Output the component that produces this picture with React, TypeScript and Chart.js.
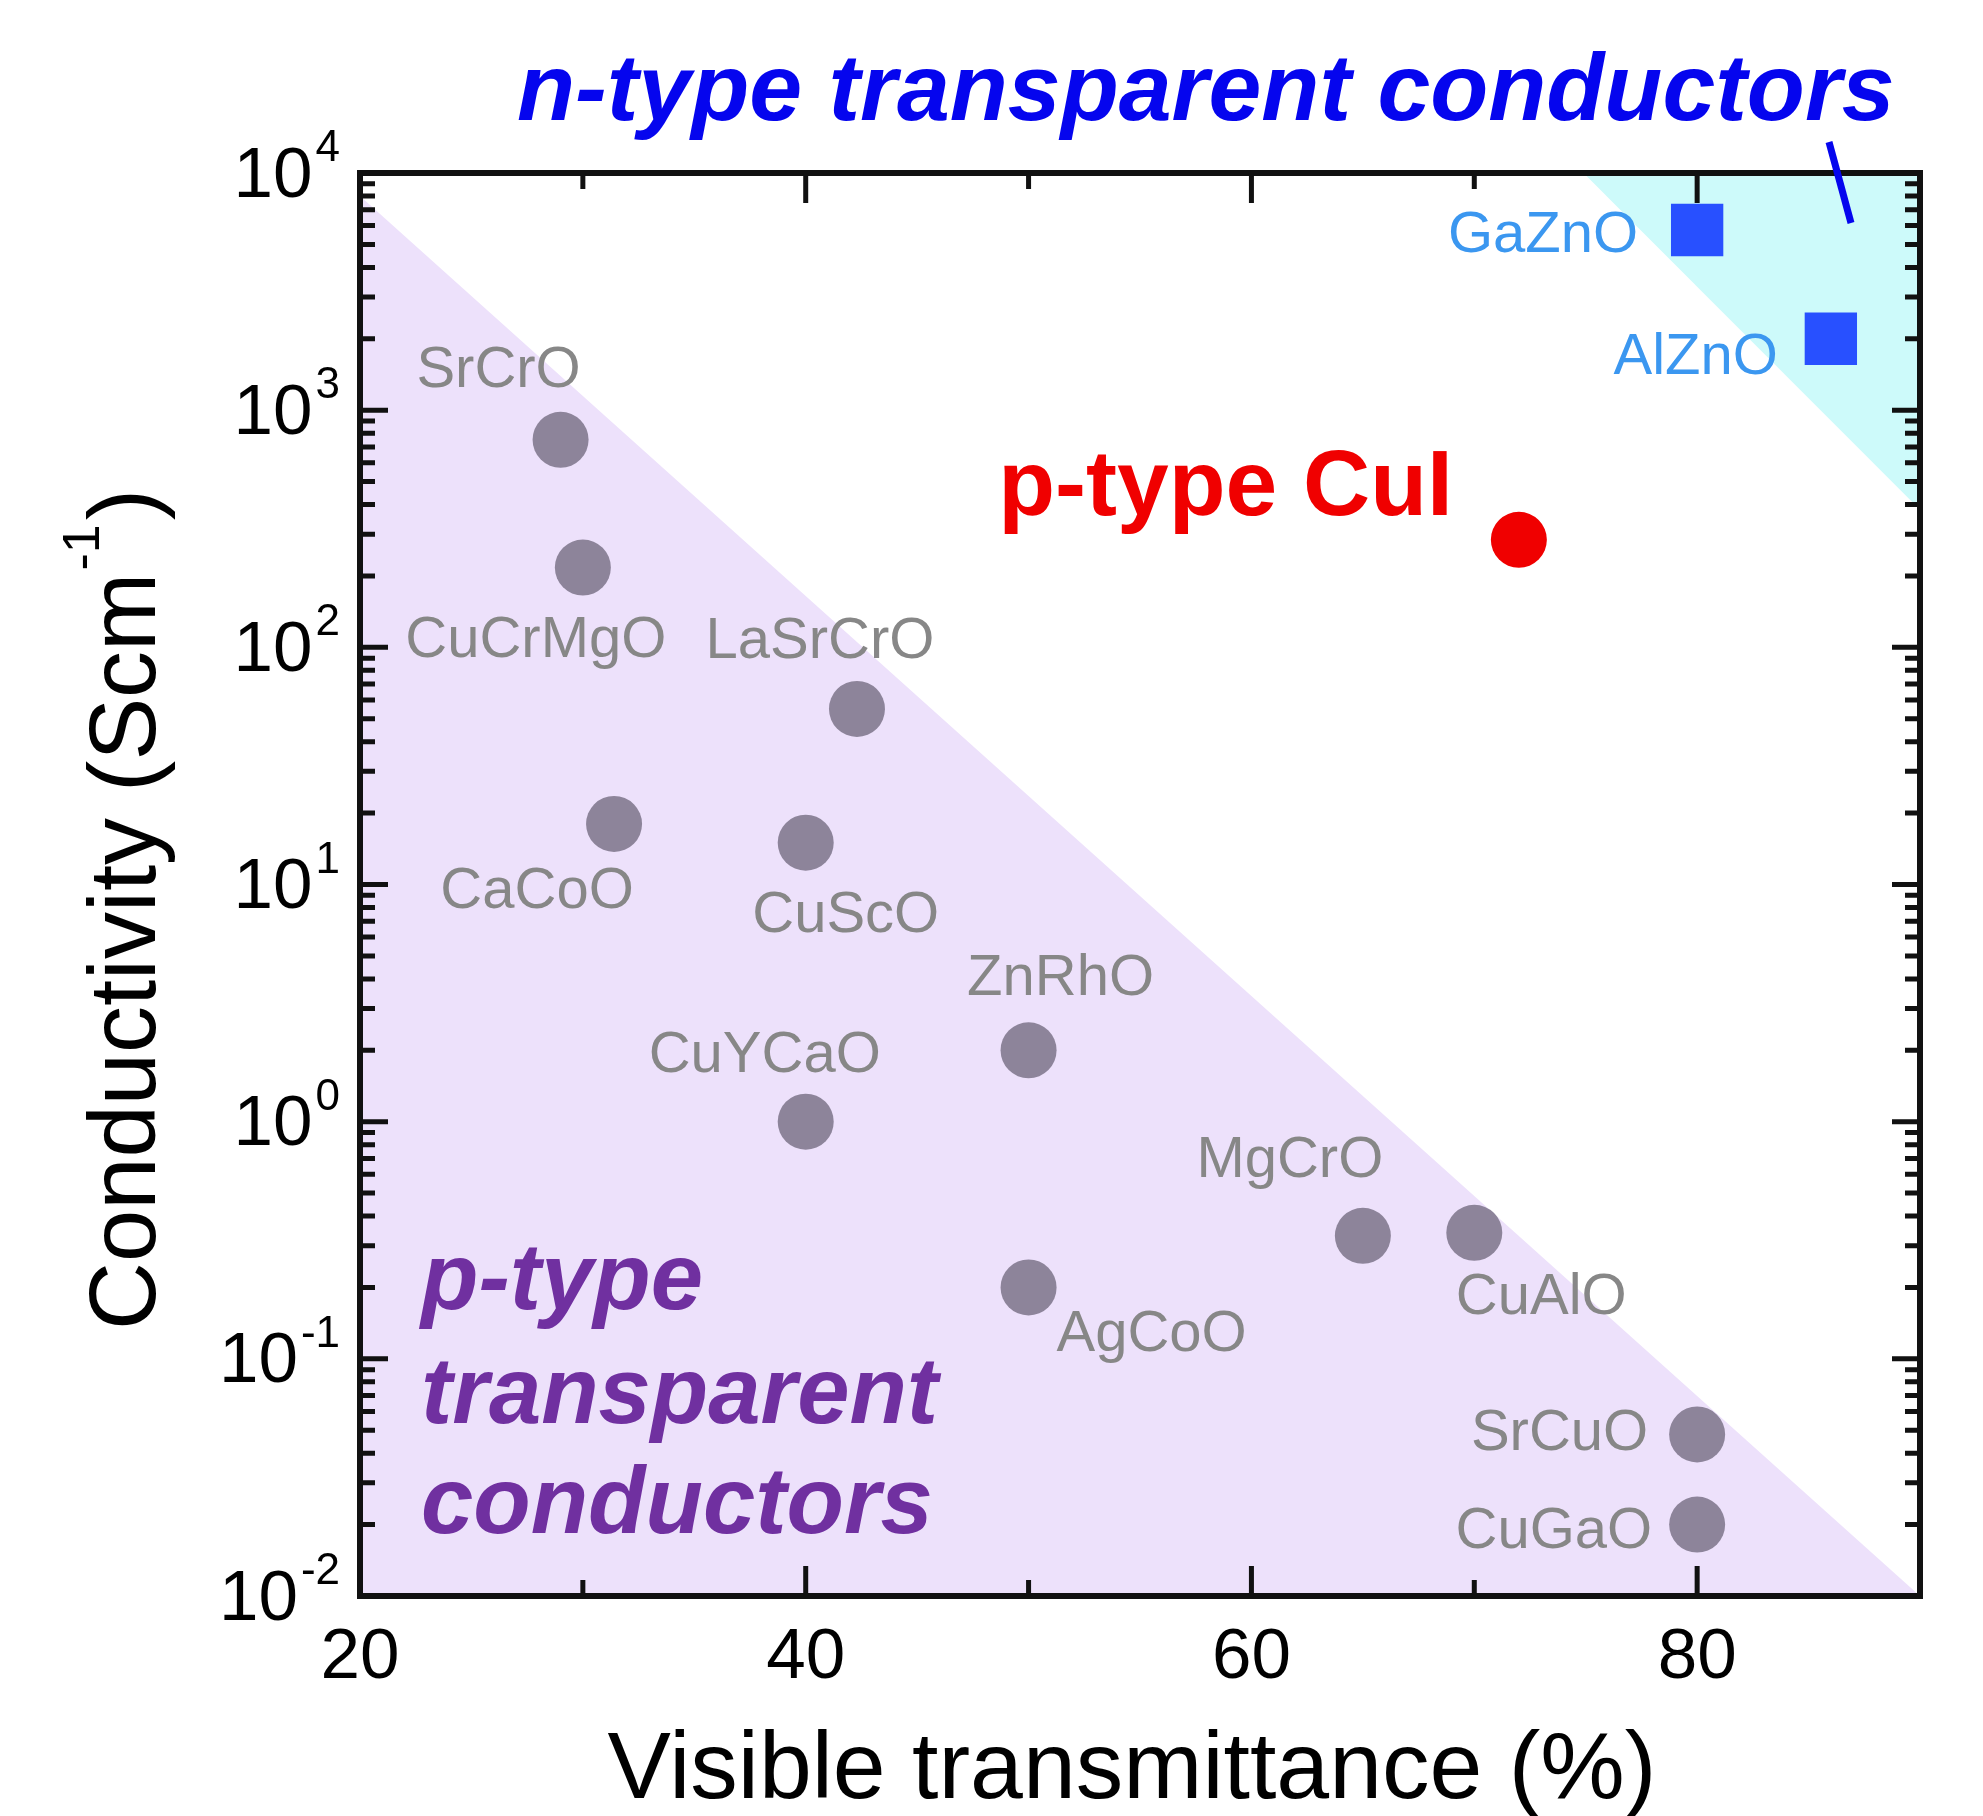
import React, { useEffect, useRef } from 'react';
import { Chart, registerables } from 'chart.js';

Chart.register(...registerables);

// ---- Data ----
const pNames = ['SrCrO', 'CuCrMgO', 'LaSrCrO', 'CaCoO', 'CuScO', 'ZnRhO', 'CuYCaO', 'MgCrO', 'CuAlO', 'AgCoO', 'SrCuO', 'CuGaO'];
const pTransmittance = [29, 30, 42.3, 31.4, 40, 50, 40, 65, 70, 50, 80, 80];
const pConductivity = [750, 217, 55, 18, 15, 2.0, 1.0, 0.33, 0.34, 0.2, 0.048, 0.02];

const nNames = ['GaZnO', 'AlZnO'];
const nTransmittance = [80, 86];
const nConductivity = [5750, 2000];

const cuiName = 'p-type CuI';
const cuiTransmittance = [72];
const cuiConductivity = [284];

const pRegionX = [20, 90];
const pRegionY = [8000, 0.01];
const nRegionX = [74.9, 90];
const nRegionY = [10000, 380];

const xMajorTicks = [20, 40, 60, 80];
const xMinorTicks = [30, 50, 70];
const yExponents = [-2, -1, 0, 1, 2, 3, 4];

// ---- Label placement (pixel offsets from the marker) ----
const pLabelOffsets: [number, number, CanvasTextAlign][] = [
  [-62, -69, 'center'],
  [-47, 73, 'center'],
  [-37, -67, 'center'],
  [-77, 68, 'center'],
  [40, 73, 'center'],
  [32, -71, 'center'],
  [-41, -66, 'center'],
  [-73, -75, 'center'],
  [67, 65, 'center'],
  [123, 48, 'center'],
  [-49, 0, 'right'],
  [-45, 7, 'right'],
];
const nLabelOffsets: [number, number, CanvasTextAlign][] = [
  [-59, 6, 'right'],
  [-53, 19, 'right'],
];

const FONT = '"Liberation Sans", Arial, Helvetica, sans-serif';

const toPts = (xs: number[], ys: number[]) => xs.map((x, i) => ({ x, y: ys[i] }));

const overlay = {
  id: 'overlay',
  afterDatasetsDraw(chart: any) {
    const ctx: CanvasRenderingContext2D = chart.ctx;
    const xs = chart.scales.x;
    const ys = chart.scales.y;
    const ca = chart.chartArea;
    ctx.save();

    // point labels
    ctx.textBaseline = 'middle';
    ctx.font = `58px ${FONT}`;
    ctx.fillStyle = '#878787';
    const pMeta = chart.getDatasetMeta(2);
    pMeta.data.forEach((el: any, i: number) => {
      const [dx, dy, al] = pLabelOffsets[i];
      ctx.textAlign = al;
      ctx.fillText(pNames[i], el.x + dx, el.y + dy);
    });
    ctx.fillStyle = '#3b97f0';
    const nMeta = chart.getDatasetMeta(4);
    nMeta.data.forEach((el: any, i: number) => {
      const [dx, dy, al] = nLabelOffsets[i];
      ctx.textAlign = al;
      ctx.fillText(nNames[i], el.x + dx, el.y + dy);
    });

    // CuI label
    const cMeta = chart.getDatasetMeta(3);
    const cEl = cMeta.data[0];
    ctx.fillStyle = '#f00000';
    ctx.font = `bold 93px ${FONT}`;
    ctx.textAlign = 'right';
    ctx.textBaseline = 'alphabetic';
    ctx.fillText(cuiName, cEl.x - 66, cEl.y - 25);

    // p-type region text
    ctx.fillStyle = '#7030a0';
    ctx.font = `italic bold 94px ${FONT}`;
    ctx.textAlign = 'left';
    ctx.fillText('p-type', ca.left + 61, 1309);
    ctx.fillText('transparent', ca.left + 61, 1423);
    ctx.fillText('conductors', ca.left + 61, 1533);

    // frame
    ctx.strokeStyle = '#111111';
    ctx.lineWidth = 6;
    ctx.strokeRect(ca.left, ca.top, ca.right - ca.left, ca.bottom - ca.top);

    // ticks
    ctx.lineWidth = 5;
    ctx.beginPath();
    const xt = (v: number, len: number) => {
      const px = xs.getPixelForValue(v);
      ctx.moveTo(px, ca.bottom);
      ctx.lineTo(px, ca.bottom - len);
      ctx.moveTo(px, ca.top);
      ctx.lineTo(px, ca.top + len);
    };
    xMajorTicks.forEach((v) => xt(v, 30));
    xMinorTicks.forEach((v) => xt(v, 16));
    const yt = (v: number, len: number) => {
      const py = ys.getPixelForValue(v);
      ctx.moveTo(ca.left, py);
      ctx.lineTo(ca.left + len, py);
      ctx.moveTo(ca.right, py);
      ctx.lineTo(ca.right - len, py);
    };
    yExponents.forEach((e) => {
      yt(Math.pow(10, e), 28);
      if (e < 4) {
        for (let m = 2; m <= 9; m++) yt(m * Math.pow(10, e), 15);
      }
    });
    ctx.stroke();

    // x tick labels
    ctx.fillStyle = '#000';
    ctx.font = `71px ${FONT}`;
    ctx.textAlign = 'center';
    ctx.textBaseline = 'middle';
    xMajorTicks.forEach((v) => ctx.fillText(String(v), xs.getPixelForValue(v), 1658));

    // y tick labels with superscripts
    yExponents.forEach((e) => {
      const py = ys.getPixelForValue(Math.pow(10, e));
      ctx.font = `44px ${FONT}`;
      ctx.textAlign = 'right';
      ctx.textBaseline = 'alphabetic';
      const sup = String(e);
      const supW = ctx.measureText(sup).width;
      ctx.fillText(sup, 340, py - 12);
      ctx.font = `71px ${FONT}`;
      ctx.textBaseline = 'middle';
      ctx.fillText('10', 340 - supW - 3, py + 4);
    });

    // x title
    ctx.font = `95px ${FONT}`;
    ctx.textAlign = 'center';
    ctx.textBaseline = 'alphabetic';
    ctx.fillText('Visible transmittance (%)', 1132, 1798);

    // y title (rotated, with superscript)
    ctx.save();
    ctx.translate(155, 1330);
    ctx.rotate(-Math.PI / 2);
    ctx.textAlign = 'left';
    ctx.font = `94px ${FONT}`;
    const main = 'Conductivity (Scm';
    ctx.fillText(main, 0, 0);
    let cx = ctx.measureText(main).width;
    ctx.font = `52px ${FONT}`;
    ctx.fillText('-1', cx + 2, -56);
    cx += ctx.measureText('-1').width + 6;
    ctx.font = `94px ${FONT}`;
    ctx.fillText(')', cx, 0);
    ctx.restore();

    // n-type title
    ctx.fillStyle = '#0505ee';
    ctx.font = `italic bold 95px ${FONT}`;
    ctx.textAlign = 'left';
    ctx.fillText('n-type transparent conductors', 517, 120);

    // pointer line
    ctx.strokeStyle = '#0505ee';
    ctx.lineWidth = 7;
    ctx.beginPath();
    ctx.moveTo(1829, 142);
    ctx.lineTo(1851, 223);
    ctx.stroke();

    ctx.restore();
  },
};

export default function App() {
  const ref = useRef<HTMLCanvasElement>(null);
  useEffect(() => {
    document.body.style.margin = '0';
    const chart = new Chart(ref.current as HTMLCanvasElement, {
      type: 'scatter',
      data: {
        datasets: [
          {
            label: 'p-type region',
            data: toPts(pRegionX, pRegionY),
            showLine: true,
            fill: 'start',
            backgroundColor: '#ede1fb',
            borderWidth: 0,
            borderColor: 'rgba(0,0,0,0)',
            pointRadius: 0,
            order: 10,
          } as any,
          {
            label: 'n-type region',
            data: toPts(nRegionX, nRegionY),
            showLine: true,
            fill: 'end',
            backgroundColor: '#cdfafa',
            borderWidth: 0,
            borderColor: 'rgba(0,0,0,0)',
            pointRadius: 0,
            order: 9,
          } as any,
          {
            label: 'p-type TCs',
            data: toPts(pTransmittance, pConductivity),
            pointStyle: 'circle',
            pointRadius: 28,
            backgroundColor: '#8d849a',
            borderWidth: 0,
            order: 1,
          },
          {
            label: 'CuI',
            data: toPts(cuiTransmittance, cuiConductivity),
            pointStyle: 'circle',
            pointRadius: 28,
            backgroundColor: '#f00000',
            borderWidth: 0,
            order: 1,
          },
          {
            label: 'n-type TCs',
            data: toPts(nTransmittance, nConductivity),
            pointStyle: 'rect',
            pointRadius: 37,
            backgroundColor: '#2850ff',
            borderWidth: 0,
            order: 1,
          },
        ],
      },
      options: {
        responsive: false,
        animation: false,
        events: [],
        layout: { padding: { left: 360, top: 173, right: 63, bottom: 220 } },
        plugins: { legend: { display: false }, tooltip: { enabled: false } },
        scales: {
          x: { type: 'linear', min: 20, max: 90, display: false },
          y: { type: 'logarithmic', min: 0.01, max: 10000, display: false },
        },
      },
      plugins: [overlay],
    });
    return () => chart.destroy();
  }, []);
  return (
    <div style={{ width: 1983, height: 1816 }}>
      <canvas ref={ref} width={1983} height={1816} style={{ display: 'block' }} />
    </div>
  );
}
